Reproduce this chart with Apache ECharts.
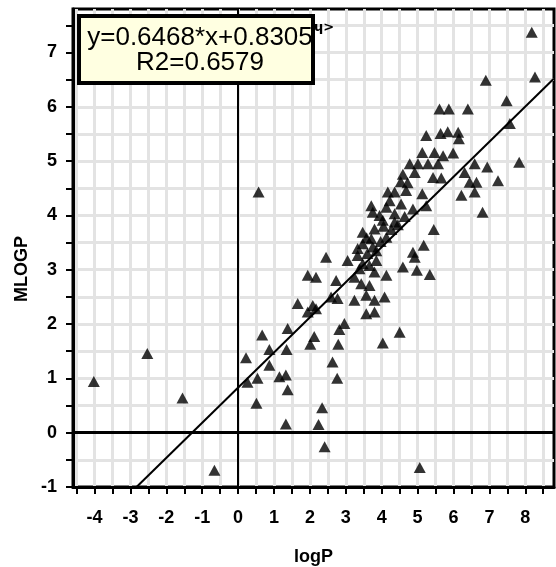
<!DOCTYPE html>
<html><head><meta charset="utf-8">
<script src="https://cdn.jsdelivr.net/npm/echarts@6/dist/echarts.min.js"></script>
<style>html,body{margin:0;padding:0;background:#fff}#c{width:556px;height:567px}</style>
</head><body><div id="c"></div>
<script>
// logP (x) and MLOGP (y) values
const logP = [
  -4.02,-2.53,-1.55,-0.66,0.57,5.06,
  8.18,8.27,6.90,7.48,7.57,5.61,5.87,6.40,5.24,5.64,5.84,6.13,6.15,5.13,5.47,5.71,5.99,
  4.78,5.01,5.29,5.57,4.59,4.92,5.43,5.66,6.59,6.94,7.83,6.31,6.45,6.64,7.24,6.22,6.59,
  5.13,4.68,6.81,5.45,5.17,4.87,4.92,4.59,4.98,5.34,4.50,
  4.53,4.17,4.36,3.71,3.75,4.13,4.54,4.36,4.87,3.94,4.03,4.36,4.45,5.24,3.47,3.80,4.13,
  3.47,3.33,3.71,3.75,3.85,2.45,3.05,3.33,3.47,3.38,3.85,3.66,1.94,2.17,2.73,3.24,3.80,
  4.13,3.43,3.66,2.59,2.77,3.24,3.57,3.80,4.08,1.66,2.08,2.17,1.94,3.57,3.80,1.38,2.12,
  2.01,2.82,2.79,4.03,2.96,
  4.22,4.05,4.27,4.64,3.58,3.60,3.97,4.72,
  0.67,0.87,1.35,0.22,0.87,2.63,1.15,1.33,0.26,0.54,2.76,1.38,0.51,2.34,1.33,2.24,2.41
];
const mlogp = [
  0.94,1.46,0.64,-0.69,4.43,-0.64,
  7.37,6.55,6.49,6.11,5.69,5.96,5.96,5.96,5.47,5.51,5.54,5.53,5.41,5.16,5.16,5.10,5.15,
  4.95,4.95,4.95,4.95,4.76,4.79,4.70,4.69,4.95,4.89,4.98,4.79,4.61,4.61,4.64,4.37,4.43,
  4.40,4.46,4.06,3.74,3.45,3.32,3.23,3.05,2.99,2.91,1.85,
  4.62,4.43,4.43,4.18,4.06,4.15,4.21,4.03,4.12,4.00,3.91,3.88,3.83,4.18,3.69,3.75,3.60,
  3.48,3.39,3.57,3.42,3.35,3.23,3.17,3.26,3.11,3.02,3.17,3.08,2.90,2.86,2.80,2.86,2.96,
  2.90,2.74,2.71,2.50,2.47,2.44,2.53,2.44,2.50,2.38,2.34,2.28,2.22,2.19,2.22,1.92,1.77,
  1.63,1.90,1.63,1.65,2.01,
  4.27,3.80,3.74,3.98,3.59,3.30,3.52,4.60,
  1.80,1.53,1.53,1.38,1.24,1.30,1.03,1.06,0.93,1.00,1.00,0.79,0.54,0.46,0.16,0.15,-0.26
];
// regression line end points
const fitX = [-2.83, 8.8];
const fitY = [-1.0, 6.52];
// axis ticks and labels
const xTickValues = [-4.5,-4,-3.5,-3,-2.5,-2,-1.5,-1,-0.5,0,0.5,1,1.5,2,2.5,3,3.5,4,4.5,5,5.5,6,6.5,7,7.5,8,8.5];
const yTickValues = [-1,-0.5,0,0.5,1,1.5,2,2.5,3,3.5,4,4.5,5,5.5,6,6.5,7,7.5];
const xLabelValues = [-4,-3,-2,-1,0,1,2,3,4,5,6,7,8];
const yLabelValues = [-1,0,1,2,3,4,5,6,7];
const xName = 'logP';
const yName = 'MLOGP';
const eqText = 'y=0.6468*x+0.8305';
const r2Text = 'R2=0.6579';
const hiddenText = 'ɥ>';

const points = logP.map((x, i) => [x, mlogp[i]]);
const fitLine = fitX.map((x, i) => [x, fitY[i]]);

const chart = echarts.init(document.getElementById('c'), null, {renderer: 'canvas'});
const labelFont = {color: '#000', fontFamily: 'Liberation Sans', fontWeight: 'bold', fontSize: 18};

chart.setOption({
  animation: false,
  backgroundColor: '#fff',
  grid: {show: true, left: 73, right: 2, top: 9, bottom: 80, containLabel: false, outerBoundsMode: 'none',
         borderColor: '#000', borderWidth: 3, backgroundColor: '#fff'},
  xAxis: {
    type: 'value', min: -4.6, max: 8.8,
    axisLine: {show: true, onZero: false, lineStyle: {color: '#000', width: 3}},
    axisTick: {show: true, customValues: xTickValues, length: 7, lineStyle: {color: '#000', width: 2}},
    axisLabel: Object.assign({customValues: xLabelValues, margin: 22}, labelFont),
    splitLine: {show: true, lineStyle: {color: '#e3e3e3', width: 3}},
    name: xName, nameLocation: 'middle', nameGap: 61,
    nameTextStyle: labelFont
  },
  yAxis: {
    type: 'value', min: -1, max: 7.8,
    axisLine: {show: true, onZero: false, lineStyle: {color: '#000', width: 3}},
    axisTick: {show: true, customValues: yTickValues, length: 7, lineStyle: {color: '#000', width: 2}},
    axisLabel: Object.assign({customValues: yLabelValues, margin: 16}, labelFont),
    splitLine: {show: true, lineStyle: {color: '#e3e3e3', width: 3}}
  },
  series: [
    {
      type: 'scatter', data: points, symbol: 'triangle', symbolSize: [12, 11],
      itemStyle: {color: '#000'}, emphasis: {disabled: true}, silent: true, z: 3,
      markLine: {
        silent: true, symbol: ['none', 'none'], label: {show: false},
        lineStyle: {color: '#000', type: 'solid'},
        data: [
          {xAxis: 0, lineStyle: {width: 2, color: '#000', type: 'solid'}},
          {yAxis: 0, lineStyle: {width: 3, color: '#000', type: 'solid'}}
        ]
      }
    },
    {
      type: 'line', data: fitLine, showSymbol: false, symbol: 'none', silent: true, z: 4,
      lineStyle: {color: '#000', width: 2}, emphasis: {disabled: true}
    }
  ],
  graphic: [
    {type: 'text', x: 22, y: 269, rotation: Math.PI / 2, silent: true,
     style: {text: yName, fill: '#000', fontFamily: 'Liberation Sans', fontWeight: 'bold', fontSize: 18, align: 'center', verticalAlign: 'middle'}},
    {type: 'text', x: 314, y: 28, silent: true, z: 100,
     style: {text: hiddenText, fill: '#000', fontFamily: 'DejaVu Sans', fontWeight: 'bold', fontSize: 13, align: 'left', verticalAlign: 'middle'}},
    {type: 'rect', silent: true, z: 100, shape: {x: 79, y: 16, width: 234, height: 67},
     style: {fill: '#FFFFE1', stroke: null}},
    {type: 'text', x: 200, y: 38, silent: true, z: 101,
     style: {text: eqText, fill: '#000', fontFamily: 'Liberation Sans', fontSize: 26, align: 'center', verticalAlign: 'middle'}},
    {type: 'text', x: 200, y: 63, silent: true, z: 101,
     style: {text: r2Text, fill: '#000', fontFamily: 'Liberation Sans', fontSize: 26, align: 'center', verticalAlign: 'middle'}},
    {type: 'rect', silent: true, z: 102, shape: {x: 79, y: 16, width: 234, height: 67},
     style: {fill: null, stroke: '#000', lineWidth: 4}}
  ]
});
</script>
</body></html>
